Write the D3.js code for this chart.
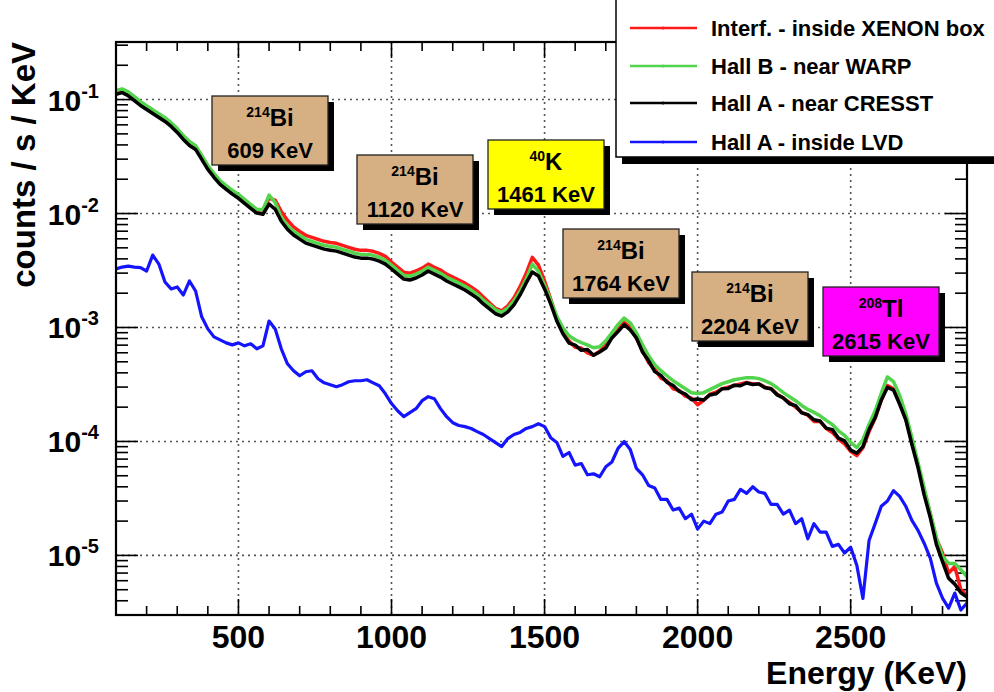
<!DOCTYPE html>
<html><head><meta charset="utf-8">
<script src="https://cdn.jsdelivr.net/npm/d3@7"></script>
<style>
body{margin:0;background:#fff}
svg{display:block}
text{font-family:"Liberation Sans",Arial,Helvetica,sans-serif;font-weight:bold;fill:#000}
</style>
</head><body>
<svg id="chart" width="994" height="692"></svg>
<script>
// ---------------- DATA ----------------
const binStart = 100;   // keV, first bin
const binWidth = 20;    // keV
const seriesNames = ["Interf. - inside XENON box","Hall B - near WARP","Hall A - near CRESST","Hall A - inside LVD"];
const seriesColors = ["#ff1a1a","#52d44c","#000000","#1414ff"];

const interfXenon = [
0.118,0.122,0.114,0.104,0.094,0.0867,0.080,0.0738,0.0682,0.0616,
0.0546,0.0474,0.042,0.0387,0.0317,0.0259,0.0221,0.0191,0.0173,0.0157,
0.0144,0.013,0.0118,0.0107,0.0108,0.0136,0.0131,0.0104,0.00874,0.00763,
0.00697,0.00644,0.00618,0.00593,0.0057,0.00558,0.00548,0.00525,0.00505,0.00486,
0.00475,0.00475,0.00466,0.00447,0.00421,0.00375,0.00338,0.00306,0.003,0.00313,
0.00332,0.0036,0.00338,0.00319,0.00294,0.00277,0.00261,0.00245,0.00227,0.00208,
0.00185,0.00165,0.00147,0.0014,0.00155,0.00182,0.00228,0.00299,0.00413,0.00353,
0.00256,0.00178,0.00119,0.0009,0.00076,0.00067,0.00066,0.0006,0.00057,0.00062,
0.0007,0.00082,0.00098,0.00111,0.00101,0.0008,0.00063,0.00049,0.00043,0.00036,
0.00034,0.00029,0.00028,0.00025,0.00024,0.00021,0.00023,0.00026,0.00027,0.00029,
0.0003,0.00031,0.00032,0.00033,0.00032,0.00032,0.0003,0.00029,0.00026,0.00024,
0.00022,0.0002,0.00018,0.00017,0.00015,0.00015,0.00013,0.00012,0.000105,0.000095,
0.000082,0.000075,0.000088,0.000122,0.00016,0.00023,0.00031,0.00029,0.00022,0.00016,
0.0001,0.000062,0.000037,0.000023,0.000014,0.0000105,0.000007,0.000008,0.000005,0.0000045];

const hallBWarp = [
0.12,0.124,0.117,0.106,0.0958,0.0883,0.0815,0.0752,0.0694,0.0627,
0.0556,0.0483,0.0428,0.0394,0.0323,0.0264,0.0225,0.0194,0.0176,0.016,
0.0147,0.0133,0.012,0.0109,0.0108,0.0145,0.0125,0.00924,0.00786,0.00699,
0.00644,0.00594,0.0057,0.00548,0.00526,0.00515,0.00505,0.00485,0.00467,0.00448,
0.00438,0.00438,0.0043,0.00413,0.00389,0.00352,0.00318,0.00287,0.00282,0.00294,
0.00312,0.00338,0.00318,0.00299,0.00276,0.0026,0.00245,0.0023,0.00213,0.00195,
0.00174,0.00158,0.00143,0.00136,0.00148,0.00171,0.00208,0.00266,0.00359,0.00311,
0.00235,0.00174,0.00125,0.000994,0.000845,0.00078,0.000736,0.000704,0.000664,0.000678,
0.000765,0.000898,0.00106,0.00121,0.0011,0.000898,0.000704,0.000565,0.000471,0.000418,
0.000377,0.000341,0.000315,0.00029,0.000268,0.000263,0.000268,0.000285,0.000303,0.000322,
0.000334,0.000348,0.000356,0.000363,0.000363,0.000356,0.000341,0.000322,0.000296,0.000268,
0.000247,0.000228,0.000207,0.000191,0.00018,0.000168,0.000153,0.000141,0.000124,0.000113,
0.000098,0.0000885,0.000104,0.000141,0.000186,0.000265,0.000368,0.000335,0.000254,0.000175,
0.000108,0.000065,0.0000392,0.0000235,0.0000143,0.0000098,0.0000085,0.0000085,0.0000075,0.0000065];

const hallACresst = [
0.111,0.115,0.108,0.098,0.0887,0.0818,0.0755,0.0696,0.0643,0.0581,
0.0515,0.0447,0.0396,0.0365,0.0299,0.0244,0.0208,0.0180,0.0163,0.0148,
0.0136,0.0123,0.0111,0.0101,0.00986,0.0121,0.0109,0.00856,0.00728,0.00647,
0.00596,0.0055,0.00528,0.00507,0.00487,0.00477,0.00468,0.00449,0.00432,0.00415,
0.00406,0.00406,0.00398,0.00382,0.0036,0.00326,0.00294,0.00266,0.00261,0.00272,
0.00289,0.00313,0.00294,0.00277,0.00256,0.00241,0.00227,0.00213,0.00197,0.00181,
0.00161,0.00146,0.00132,0.00126,0.00137,0.00158,0.00193,0.00246,0.00307,0.00283,
0.00218,0.00161,0.00114,0.00088,0.00073,0.0007,0.00063,0.00064,0.00057,0.00061,
0.00066,0.00081,0.00092,0.00106,0.00095,0.00081,0.00061,0.00051,0.00041,0.00038,
0.00033,0.00031,0.000275,0.00026,0.000232,0.000236,0.000231,0.000256,0.000262,0.00029,
0.000292,0.000312,0.000308,0.000326,0.000316,0.00032,0.000296,0.00029,0.000256,0.000241,
0.000214,0.000206,0.000178,0.000172,0.000155,0.000151,0.000131,0.000127,0.000107,0.000101,
0.000084,0.000079,0.00009,0.000127,0.000162,0.000231,0.000298,0.000282,0.000212,0.000155,
0.000094,0.000059,0.000034,0.0000215,0.0000125,0.0000088,0.0000063,0.0000056,0.0000047,0.0000043];

const hallALvd = [
0.00326,0.00339,0.00346,0.00339,0.00335,0.00313,0.00432,0.0036,0.00251,0.00218,
0.00227,0.00193,0.00256,0.00209,0.00124,0.000972,0.000827,0.000779,0.000733,0.000704,
0.000733,0.00069,0.000719,0.00065,0.00069,0.00114,0.000972,0.00065,0.00048,0.000417,
0.000377,0.000409,0.000417,0.000355,0.000327,0.000315,0.000302,0.000315,0.000334,0.000341,
0.000341,0.000348,0.000327,0.000308,0.000262,0.000215,0.000186,0.000165,0.000179,0.000194,
0.000228,0.000247,0.000237,0.000194,0.000165,0.000146,0.000138,0.000135,0.00013,0.000122,
0.000115,0.000106,0.0000978,0.0000902,0.000106,0.000115,0.00012,0.00013,0.000135,0.000143,
0.000135,0.000108,0.000098,0.000074,0.00008,0.000062,0.000064,0.000051,0.000052,0.000049,
0.00006,0.000066,0.000087,0.0001,0.000085,0.000058,0.000051,0.000041,0.000039,0.000031,
0.000031,0.000025,0.000026,0.000021,0.000023,0.000017,0.00002,0.000019,0.000023,0.000024,
0.00003,0.000031,0.000038,0.000035,0.00004,0.000036,0.000035,0.000028,0.000028,0.000023,
0.000025,0.000019,0.000021,0.000014,0.000019,0.000016,0.000016,0.000012,0.0000125,0.0000105,
0.0000118,0.0000082,0.0000042,0.0000135,0.000019,0.000027,0.00003,0.000037,0.000033,0.000027,
0.0000203,0.0000166,0.0000128,0.00000945,0.00000571,0.00000422,0.00000345,0.00000467,0.00000332,0.00000382];

const xDomain = [100, 2880];
const yDomain = [3.0e-6, 0.32];
const xTickValues = [500, 1000, 1500, 2000, 2500];
const xTickLabels = ["500", "1000", "1500", "2000", "2500"];
const yTickValues = [1e-1, 1e-2, 1e-3, 1e-4, 1e-5];
const yTickExponents = ["-1", "-2", "-3", "-4", "-5"];
const xAxisTitle = "Energy (KeV)";
const yAxisTitle = "counts / s / KeV";

const peakMass = ["214", "214", "40", "214", "214", "208"];
const peakElement = ["Bi", "Bi", "K", "Bi", "Bi", "Tl"];
const peakEnergyText = ["609 KeV", "1120 KeV", "1461 KeV", "1764 KeV", "2204 KeV", "2615 KeV"];
const peakFill = ["#d6b083", "#d6b083", "#ffff00", "#d6b083", "#d6b083", "#ff00ff"];

// ---------------- LAYOUT ----------------
const M = {left: 116, top: 42, right: 967, bottom: 615};
const peakBoxXY = [[212, 96], [357, 155], [488, 140], [563, 229], [692, 272], [823, 287]];
const boxW = 116, boxH = 69;

const svg = d3.select("#chart");
const x = d3.scaleLinear().domain(xDomain).range([M.left, M.right]);
const y = d3.scaleLog().domain(yDomain).range([M.bottom, M.top]);

svg.append("rect").attr("width", 994).attr("height", 692).attr("fill", "#fff");

svg.append("defs").append("clipPath").attr("id", "plotclip")
  .append("rect").attr("x", M.left).attr("y", M.top)
  .attr("width", M.right - M.left).attr("height", M.bottom - M.top);

// grid
const grid = svg.append("g").attr("stroke", "#555").attr("stroke-width", 1.6).attr("stroke-dasharray", "2,4");
xTickValues.forEach(v => grid.append("line").attr("x1", x(v)).attr("x2", x(v)).attr("y1", M.top).attr("y2", M.bottom));
yTickValues.forEach(v => grid.append("line").attr("x1", M.left).attr("x2", M.right).attr("y1", y(v)).attr("y2", y(v)));

// ticks (inside, all four sides)
const ticks = svg.append("g").attr("stroke", "#000").attr("stroke-width", 1.6);
const xMinor = d3.range(100, 2881, 100);
xMinor.forEach(v => {
  const major = v % 500 === 0;
  const L = major ? 16 : 9;
  ticks.append("line").attr("x1", x(v)).attr("x2", x(v)).attr("y1", M.bottom).attr("y2", M.bottom - L);
  ticks.append("line").attr("x1", x(v)).attr("x2", x(v)).attr("y1", M.top).attr("y2", M.top + L);
});
const yMinor = [];
[1e-6, 1e-5, 1e-4, 1e-3, 1e-2, 1e-1].forEach(d => { for (let k = 1; k <= 9; k++) { const v = d * k; if (v >= yDomain[0] && v <= yDomain[1]) yMinor.push([v, k === 1]); } });
yMinor.forEach(([v, major]) => {
  const L = major ? 22 : 12;
  ticks.append("line").attr("x1", M.left).attr("x2", M.left + L).attr("y1", y(v)).attr("y2", y(v));
  ticks.append("line").attr("x1", M.right).attr("x2", M.right - L).attr("y1", y(v)).attr("y2", y(v));
});

// series
const energies = hallACresst.map((_, i) => binStart + i * binWidth);
const line = d3.line().x((d, i) => x(energies[i])).y(d => y(Math.max(d, 1e-7))).curve(d3.curveLinear);
const plot = svg.append("g").attr("clip-path", "url(#plotclip)");
const widths = [3.5, 3.5, 3.5, 3.2];
[interfXenon, hallBWarp, hallACresst, hallALvd].forEach((s, k) => {
  plot.append("path").attr("d", line(s)).attr("fill", "none")
    .attr("stroke", seriesColors[k]).attr("stroke-width", widths[k]).attr("stroke-linejoin", "round");
});

// frame
svg.append("rect").attr("x", M.left).attr("y", M.top).attr("width", M.right - M.left).attr("height", M.bottom - M.top)
  .attr("fill", "none").attr("stroke", "#000").attr("stroke-width", 2.2);

// x tick labels
xTickValues.forEach((v, i) => {
  svg.append("text").attr("x", x(v)).attr("y", 648).attr("text-anchor", "middle")
    .attr("font-size", 32).text(xTickLabels[i]);
});
// y tick labels
yTickValues.forEach((v, i) => {
  const t = svg.append("text").attr("x", 99).attr("y", y(v) + 11).attr("text-anchor", "end").attr("font-size", 30);
  t.append("tspan").text("10");
  t.append("tspan").attr("font-size", 20).attr("dy", -13).text(yTickExponents[i]);
});
// axis titles
svg.append("text").attr("x", M.right).attr("y", 684).attr("text-anchor", "end").attr("font-size", 32).text(xAxisTitle);
svg.append("text").attr("transform", `translate(35,${M.top}) rotate(-90)`).attr("text-anchor", "end")
  .attr("font-size", 33).text(yAxisTitle);

// peak labels
peakMass.forEach((m, i) => {
  const [bx, by] = peakBoxXY[i];
  const g = svg.append("g");
  g.append("rect").attr("x", bx + 6).attr("y", by + 6).attr("width", boxW).attr("height", boxH).attr("fill", "#000");
  g.append("rect").attr("x", bx).attr("y", by).attr("width", boxW).attr("height", boxH)
    .attr("fill", peakFill[i]).attr("stroke", "#222").attr("stroke-width", 1.3);
  const t1 = g.append("text").attr("x", bx + boxW / 2).attr("y", by + 30).attr("text-anchor", "middle").attr("font-size", 24);
  t1.append("tspan").attr("font-size", 14).attr("dy", -9).text(m);
  t1.append("tspan").attr("dy", 9).text(peakElement[i]);
  g.append("text").attr("x", bx + boxW / 2).attr("y", by + 62).attr("text-anchor", "middle").attr("font-size", 22).text(peakEnergyText[i]);
});

// legend
const lg = svg.append("g");
lg.append("rect").attr("x", 622).attr("y", 157).attr("width", 380).attr("height", 7).attr("fill", "#000");
lg.append("rect").attr("x", 616).attr("y", -10).attr("width", 400).attr("height", 167)
  .attr("fill", "#fff").attr("stroke", "#000").attr("stroke-width", 1.5);
const rowY = [28, 66, 103, 142];
seriesNames.forEach((n, i) => {
  lg.append("line").attr("x1", 630).attr("x2", 697).attr("y1", rowY[i]).attr("y2", rowY[i])
    .attr("stroke", seriesColors[i]).attr("stroke-width", 2.5);
  lg.append("circle").attr("cx", 663).attr("cy", rowY[i]).attr("r", 1.5).attr("fill", seriesColors[i]);
  lg.append("text").attr("x", 711).attr("y", rowY[i] + 8).attr("font-size", 22).text(n);
});
</script>
</body></html>
